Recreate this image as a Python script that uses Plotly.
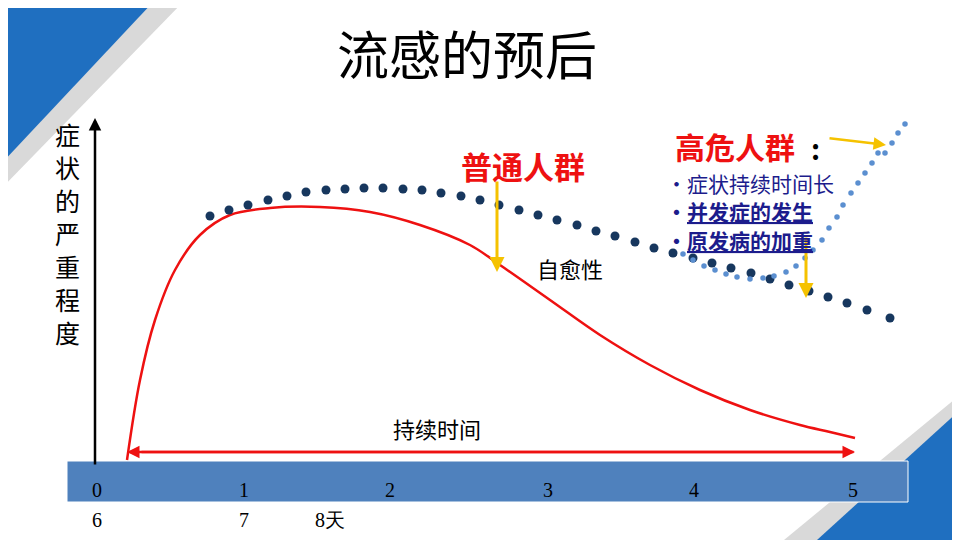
import plotly.graph_objects as go

# Data (pixel-like coordinates on a 960x540 canvas axis)
red_x = [127,140,155,175,200,230,270,320,370,420,470,500,550,600,650,700,750,800,830,855]
red_y = [460,380,320,270,235,215,208,207,212,225,245,265,300,335,365,390,410,425,432,438]

dark_x = [210,229,248,268,287,306,326,345,364,383,403,422,441,461,480,499,519,538,557,577,596,615,635,654,673,693,712,731,751,770,789,809,828,847,867,890]
dark_y = [216,210,205,200,196,192,190,189,188,188,189,190,193,196,200,205,210,215,220,225,231,236,242,248,253,258,263,268,273,279,285,291,297,303,310,318]

light_x = [683,693,704,715,726,737,750,763,774,786,796,805,813,822,829,837,843,851,858,865,872,878,885,892,898,905]
light_y = [254,260,266,270,274,277,279,278,276,272,266,258,250,240,228,217,205,193,183,173,163,153,143,134,124,124]
light_y[-2] = 133
light_y[-3] = 143
light_y[-4] = 153

ticks_top = ["0","1","2","3","4","5"]
ticks_top_x = [97,244,390,548,694,853]
ticks_bot = ["6","7","8天"]
ticks_bot_x = [97,244,330]

fig = go.Figure()
fig.add_trace(go.Scatter(x=red_x, y=red_y, mode="lines", line=dict(color="#ee1111", width=2.5, shape="spline"), hoverinfo="skip"))
fig.add_trace(go.Scatter(x=dark_x, y=dark_y, mode="markers", marker=dict(color="#17375e", size=9), hoverinfo="skip"))
fig.add_trace(go.Scatter(x=light_x, y=light_y, mode="markers", marker=dict(color="#5b8fd0", size=5.5), hoverinfo="skip"))

shapes = [
    dict(type="path", path="M 0 0 L 185 0 L 0 190 Z", fillcolor="#d9d9d9", line_width=0, layer="below"),
    dict(type="path", path="M 0 0 L 155 0 L 0 165 Z", fillcolor="#1f6fc0", line_width=0, layer="below"),
    dict(type="path", path="M 960 395 L 960 540 L 784 540 Z", fillcolor="#d9d9d9", line_width=0, layer="below"),
    dict(type="path", path="M 960 410 L 960 540 L 817 540 Z", fillcolor="#1f6fc0", line_width=0, layer="below"),
    dict(type="rect", x0=67, x1=908, y0=461, y1=502, fillcolor="#4f81bd", line=dict(color="white", width=1), layer="below"),
]
fig.update_layout(shapes=shapes)

anns = []
def arrow(x0, y0, x1, y1, color, w=2.5, size=1):
    anns.append(dict(x=x1, y=y1, ax=x0, ay=y0, xref="x", yref="y", axref="x", ayref="y",
                     showarrow=True, arrowhead=2, arrowsize=size, arrowwidth=w, arrowcolor=color, text=""))
arrow(95, 466, 95, 118, "black", 2.5, 1)
arrow(140, 452, 855, 452, "#ee1111", 2.5, 1)
arrow(855, 452, 127, 452, "#ee1111", 2.5, 1)
arrow(497, 180, 497, 272, "#f5c200", 3, 1)
arrow(806, 236, 806, 298, "#f5c200", 3, 1)
arrow(828, 138, 886, 145, "#f5c200", 2.5, 1)

def txt(x, y, t, size, color="black", family="Noto Sans CJK SC", xanchor="center"):
    anns.append(dict(x=x, y=y, xref="x", yref="y", text=t, showarrow=False, xanchor=xanchor, yanchor="middle",
                     font=dict(size=size, color=color, family=family)))
txt(467, 52, "流感的预后", 52)
for i, ch in enumerate("症状的严重程度"):
    txt(67, 134 + i*33, ch, 25)
txt(437, 428, "持续时间", 22)
txt(523, 165, "<b>普通人群</b>", 31, "#ee1111")
txt(735, 146, "<b>高危人群</b>", 30, "#ee1111")
txt(815, 148, "<b>:</b>", 28)
txt(570, 268, "自愈性", 22)
txt(664, 183, "•症状持续时间长", 21, "#1c1c8c", xanchor="left")
txt(664, 211, "<b>•<u>并发症的发生</u></b>", 21, "#1c1c8c", xanchor="left")
txt(664, 240, "<b>•<u>原发病的加重</u></b>", 21, "#1c1c8c", xanchor="left")
for x, t in zip(ticks_top_x, ticks_top):
    txt(x, 490, t, 20, "black", "Liberation Serif")
for x, t in zip(ticks_bot_x, ticks_bot):
    txt(x, 520, t, 20, "black", "Liberation Serif")

# page body has an 8px margin; shift axis ranges to compensate
fig.update_layout(annotations=anns, width=960, height=540, margin=dict(l=0, r=0, t=0, b=0),
                  plot_bgcolor="white", paper_bgcolor="white", showlegend=False,
                  xaxis=dict(range=[8, 968], visible=False, fixedrange=True),
                  yaxis=dict(range=[548, 8], visible=False, fixedrange=True))
fig.write_html("out.html", config={"displayModeBar": False})
